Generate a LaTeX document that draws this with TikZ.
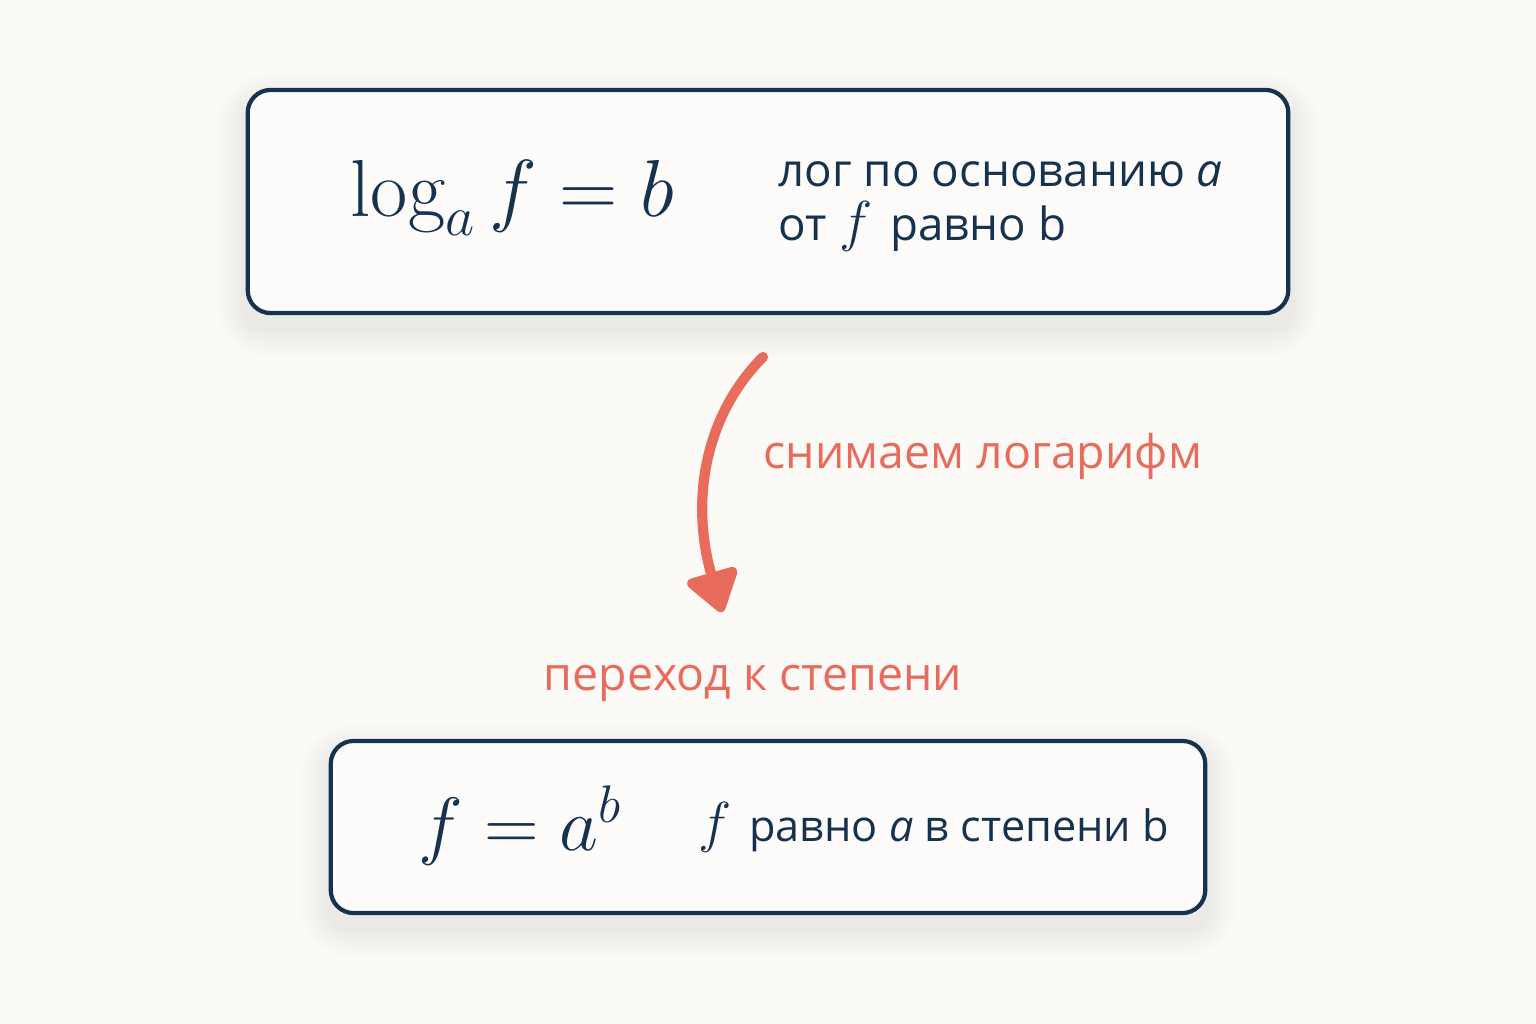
\documentclass[tikz,border=0pt]{standalone}
\usepackage{fix-cm}
\usepackage{amsmath}
\usepackage{fontspec}
\usepackage{xcolor}
\usepackage{tikz}
\usetikzlibrary{arrows.meta, positioning, backgrounds}
\newfontfamily\labelfont{Open Sans}
\newcommand{\bigf}{{\fontsize{16}{16}\selectfont$f$}\hspace{0.4em}}

\definecolor{navy}{HTML}{17324F}
\definecolor{salmon}{HTML}{E96B5B}
\definecolor{bgcream}{HTML}{FBFAF7}
\definecolor{boxfill}{HTML}{FDFCFB}

\begin{document}
\begin{tikzpicture}[
    x=0.01cm, y=-0.01cm,
    formbox/.style={
        rectangle, rounded corners=6.5pt, draw=navy, line width=1.2pt,
        fill=boxfill, inner sep=0pt
    },
    shadelayer/.style={fill=black, opacity=0.006},
    formula/.style={font=\fontsize{23}{27}\selectfont, text=navy, inner sep=0pt},
    lawtext/.style={font=\labelfont\fontsize{13}{15}\selectfont, text=navy, inner sep=0pt},
    steplabel/.style={font=\labelfont\fontsize{13.2}{16}\selectfont, text=salmon, inner sep=0pt},
    flowarrow/.style={-{Triangle[round, length=0.45cm, width=0.58cm]},
        line width=2.9pt, salmon, line cap=round}
]
\useasboundingbox (0,0) rectangle (1536,1024);

% Logarithm box
\node[formbox, minimum width=10.40cm, minimum height=2.23cm] (logbox) at (768,201.5) {};
\node[formula, anchor=base west] (logform) at (350,216) {$\log_a f = b$};
\node[lawtext, anchor=base west] (logread) at (778,186) {лог по основанию \textit{a}};
\node[lawtext, anchor=base west] (logreadb) at (778,240) {от \bigf равно b};

% Power box
\node[formbox, minimum width=8.74cm, minimum height=1.72cm] (powbox) at (768,827) {};
\node[formula, font=\fontsize{21.5}{26}\selectfont, anchor=base west]
      (powform) at (418,850) {$f = a^b$};
\node[lawtext, font=\labelfont\fontsize{12.3}{15}\selectfont, anchor=base west]
      (powread) at (698,841) {\bigf равно \textit{a} в степени b};

% Step between them
\coordinate (arrstart) at (763,357);
\coordinate (arrend) at (722,612);
\draw[flowarrow] (arrstart) .. controls (705,415) and (690,500) .. (arrend);
\node[steplabel, anchor=base west] (unlog) at (763,468) {снимаем логарифм};
\node[steplabel, anchor=base west] (topower) at (543,690) {переход к степени};

% Soft shadows
\begin{scope}[on background layer]
\fill[bgcream] (0,0) rectangle (1536,1024);
\foreach \g in {1,...,8} {
  \fill[shadelayer, rounded corners={6.5pt+\g pt}]
    ([xshift=-\g pt, yshift={-4pt-\g pt}]logbox.south west)
    rectangle ([xshift=\g pt, yshift={-4pt+\g pt}]logbox.north east);
  \fill[shadelayer, rounded corners={6.5pt+\g pt}]
    ([xshift=-\g pt, yshift={-4pt-\g pt}]powbox.south west)
    rectangle ([xshift=\g pt, yshift={-4pt+\g pt}]powbox.north east);
}
\end{scope}

\end{tikzpicture}
\end{document}
